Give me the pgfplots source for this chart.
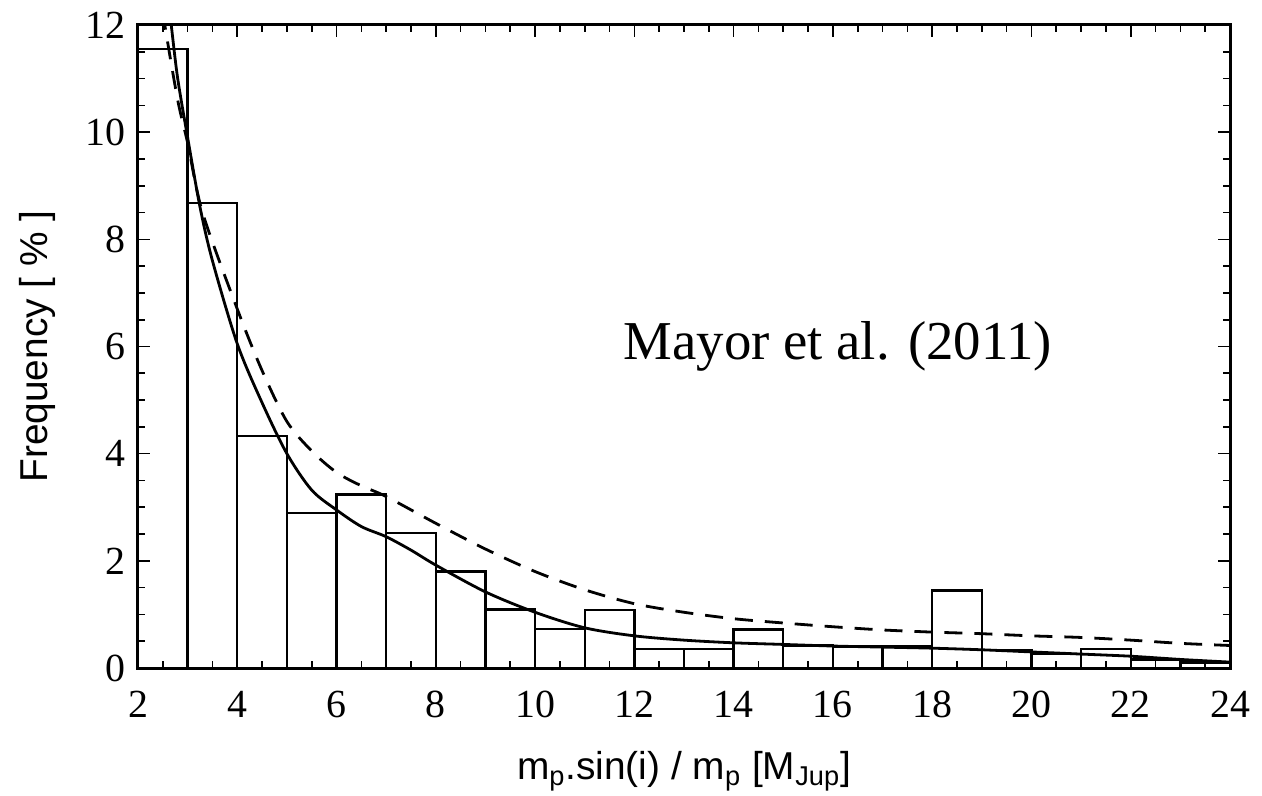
\documentclass[border=0pt]{standalone}
\usepackage{fontspec}
\setmainfont{Liberation Sans}
\newfontfamily\serif{Liberation Serif}
\usepackage{pgfplots}
\pgfplotsset{compat=1.18}
\begin{document}
\begin{tikzpicture}
\useasboundingbox (-69bp,-64bp) rectangle (562bp,334bp);
\begin{axis}[
  scale only axis, width=546bp, height=321.5bp,
  xmin=2, xmax=24, ymin=0, ymax=12,
  xtick={2,4,...,24}, ytick={0,2,...,12},
  minor tick num=3,
  tick align=inside, tick pos=both,
  major tick length=6bp, minor tick length=3.5bp,
  every tick/.style={black, line width=0.8bp},
  axis line style={line width=1.5bp},
  /pgf/number format/assume math mode=true,
  tick label style={font=\serif\fontsize{20}{20}\selectfont},
  xticklabel style={yshift=-8bp},
  yticklabel style={xshift=-3bp},
  xlabel={m\textsubscript{p}.sin(i) / m\textsubscript{p} [M\textsubscript{Jup}]},
  ylabel={Frequency [ \% ]},
  label style={font=\fontsize{19.5}{20}\selectfont},
  xlabel style={yshift=-10bp},
  ylabel style={yshift=8bp},
]
\addplot[ybar interval, draw=black, fill=none, line width=1.2bp] coordinates {
(2,11.55) (3,8.68) (4,4.33) (5,2.89) (6,3.24) (7,2.52) (8,1.80) (9,1.09)
(10,0.73) (11,1.08) (12,0.35) (13,0.35) (14,0.72) (15,0.42) (16,0.40)
(17,0.40) (18,1.45) (19,0.34) (20,0.26) (21,0.35) (22,0.16) (23,0.10) (24,0.10)
};
\addplot[black, line width=1.4bp, smooth] coordinates {
(2.55,13.0) (2.67,12.0) (2.8,11.0) (3.0,9.9) (3.25,8.6) (3.5,7.6) (4.0,6.05)
(4.5,4.95) (5.0,4.0) (5.5,3.32) (6.0,2.95) (6.5,2.64) (7.0,2.45) (7.5,2.2)
(8.0,1.92) (9.0,1.42) (10.0,1.04) (11.0,0.75) (12.0,0.6) (13.0,0.52) (14.0,0.47)
(15,0.44) (16,0.41) (17,0.39) (18,0.37) (19,0.34) (20,0.30) (21,0.26) (22,0.22)
(23,0.16) (24,0.11)
};
\addplot[black, line width=1.4bp, smooth, dash pattern=on 9bp off 6bp] coordinates {
(2.42,12.8) (2.54,12.0) (2.8,10.6) (3.0,9.8) (3.3,8.5) (4.0,6.7) (4.5,5.55)
(5.0,4.6) (5.5,4.05) (6.0,3.65) (6.5,3.4) (7.0,3.2) (8.0,2.7) (9.0,2.22) (10,1.8)
(11,1.46) (12,1.2) (13,1.04) (14,0.92) (15,0.84) (16,0.77) (17,0.71) (18,0.67)
(19,0.64) (20,0.6) (21,0.57) (22,0.52) (23,0.46) (24,0.42)
};
\node[anchor=base, font=\serif\fontsize{27.5}{27.5}\selectfont, inner sep=0pt] at (axis cs:16.1,5.75) {Mayor et al. (2011)};
\end{axis}
\end{tikzpicture}
\end{document}
